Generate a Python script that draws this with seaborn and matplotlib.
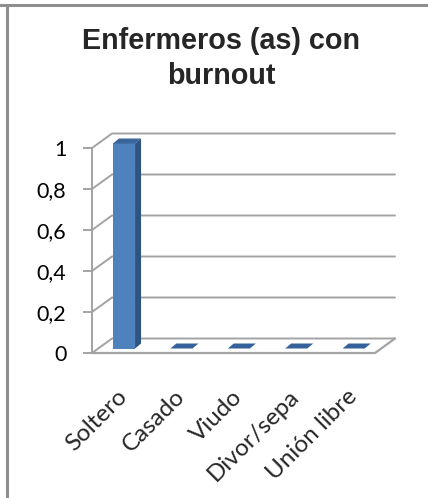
import matplotlib
matplotlib.use("Agg")
import matplotlib.pyplot as plt
from matplotlib.patches import Polygon
from matplotlib.lines import Line2D
from matplotlib.transforms import ScaledTranslation
import seaborn as sns
import pandas as pd

categories = ["Soltero", "Casado", "Viudo", "Divor/sepa", "Unión libre"]
values = [1, 0, 0, 0, 0]
y_ticks = [0, 0.2, 0.4, 0.6, 0.8, 1]
y_tick_labels = ["0", "0,2", "0,4", "0,6", "0,8", "1"]
title = "Enfermeros (as) con\nburnout"

W, H, DPI = 428, 498, 100
sns.set_style("white")
plt.rcParams["font.family"] = ["Lato", "DejaVu Sans"]

fig = plt.figure(figsize=(W / DPI, H / DPI), dpi=DPI)
fig.patch.set_facecolor("white")

# axes = front plane of the 3D box
ax_l, ax_r, ax_b, ax_t = 92, 375, 353, 148
ax = fig.add_axes([ax_l / W, (H - ax_b) / H, (ax_r - ax_l) / W, (ax_b - ax_t) / H])
ax.set_facecolor("none")

df = pd.DataFrame({"cat": categories, "val": values})
front_col = "#4F81BD"
side_col = "#2F5480"
top_col = "#3A6598"
sns.barplot(data=df, x="cat", y="val", color=front_col, saturation=1,
            width=0.385, ax=ax, zorder=3)

ax.set_xlim(-0.453, 4.477)
ax.set_ylim(0, 1)

# pixel -> data scale
p0 = ax.transData.transform((0, 0))
p1 = ax.transData.transform((1, 1))
px2x = 1.0 / (p1[0] - p0[0])
px2y = 1.0 / (p1[1] - p0[1])

grid_col = "#A3A3A3"
wall = (20 * px2x, 14.5 * px2y)
bar_front = (6 * px2x, 4.5 * px2y)
bar_depth = (6 * px2x, 5 * px2y)

x0, x1 = ax.get_xlim()
# back wall gridlines + side wall diagonals
for v in y_ticks:
    ax.add_line(Line2D([x0, x0 + wall[0], x1 + wall[0]],
                       [v, v + wall[1], v + wall[1]],
                       color=grid_col, lw=1.4, zorder=1, clip_on=False))
# floor
ax.add_line(Line2D([x0, x1, x1 + wall[0]], [0, 0, wall[1]],
                   color=grid_col, lw=1.6, zorder=1, clip_on=False))

# 3D bars
for patch, v in zip(ax.patches, values):
    patch.set_x(patch.get_x() + bar_front[0])
    patch.set_y(bar_front[1])
    patch.set_clip_on(False)
    patch.set_edgecolor("none")
    bx0 = patch.get_x()
    bx1 = bx0 + patch.get_width()
    yb = bar_front[1]
    yt = v + bar_front[1]
    top = Polygon([(bx0, yt), (bx1, yt), (bx1 + bar_depth[0], yt + bar_depth[1]),
                   (bx0 + bar_depth[0], yt + bar_depth[1])],
                  closed=True, facecolor=top_col if v > 0 else "#35619A",
                  edgecolor="none", zorder=4, clip_on=False)
    ax.add_patch(top)
    if v > 0:
        side = Polygon([(bx1, yb), (bx1, yt), (bx1 + bar_depth[0], yt + bar_depth[1]),
                        (bx1 + bar_depth[0], yb + bar_depth[1])],
                       closed=True, facecolor=side_col, edgecolor="none",
                       zorder=4, clip_on=False)
        ax.add_patch(side)

# spines / ticks
for s in ["top", "right", "bottom"]:
    ax.spines[s].set_visible(False)
ax.spines["left"].set_color(grid_col)
ax.spines["left"].set_linewidth(1.4)
ax.set_yticks(y_ticks)
ax.set_yticklabels(y_tick_labels)
ax.tick_params(axis="y", length=6.5, width=1.4, color=grid_col, pad=12,
               labelsize=15.5, labelcolor="#000000", left=True)
tick_pos = [i + bar_front[0] + bar_depth[0] / 2 for i in range(len(categories))]
ax.set_xticks(tick_pos)
ax.set_xticklabels(categories, rotation=45, ha="right", va="center",
                   rotation_mode="anchor", fontsize=17.5)
ax.tick_params(axis="x", length=0, pad=29)
shift = ScaledTranslation(-3 / DPI, 0, fig.dpi_scale_trans)
for lab in ax.get_xticklabels():
    lab.set_transform(lab.get_transform() + shift)
ax.set_xlabel("")
ax.set_ylabel("")

# title
fig.text(221 / W, 1 - 27 / H, title, ha="center", va="top",
         fontsize=20.7, fontweight="bold", family=["Liberation Sans", "DejaVu Sans"],
         linespacing=1.3)

# outer border lines
fig.add_artist(Line2D([0, 1], [1 - 5 / H, 1 - 5 / H], transform=fig.transFigure,
                      color="#8E8E8E", lw=2.2))
fig.add_artist(Line2D([7 / W, 7 / W], [0, 1 - 5 / H], transform=fig.transFigure,
                      color="#8E8E8E", lw=2.2))

fig.savefig("out.png", dpi=DPI)
